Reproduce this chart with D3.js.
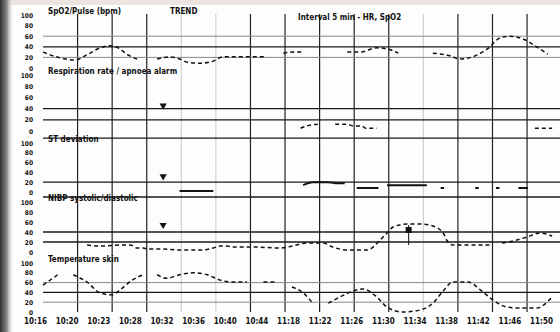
<!DOCTYPE html>
<html>
<head>
<meta charset="utf-8">
<script src="https://cdn.jsdelivr.net/npm/d3@7"></script>
<style>
  html, body { margin: 0; padding: 0; background: #fff; }
  svg { display: block; }
  .lbl text { font-family: "DejaVu Sans Condensed", "DejaVu Sans", sans-serif; font-weight: bold; font-size: 8px; fill: #111; }
  .ylbl text { font-size: 6.5px; }
</style>
</head>
<body>
<div id="chart"></div>
<script>
// time axis (minutes from start) and tick labels
const gridMinutes = d3.range(4, 57, 4);
const darkGrid = [4, 8, 12, 24, 28, 32, 36, 40, 48, 52, 56];
const timeLabels = ["10:16", "10:20", "10:23", "10:28", "10:32", "10:36", "10:40", "10:44",
    "11:18", "11:22", "11:26", "11:30", "11:34", "11:38", "11:42", "11:46", "11:50"];
const yTicks = [0, 20, 40, 60, 80, 100];

const panelTitles = ["SpO2/Pulse (bpm)", "Respiration rate / apnoea alarm", "ST deviation", "NIBP systolic/diastolic", "Temperature skin"];

// threshold rules per panel (value, dark?)
const rules1 = [[60, false], [40, true], [20, false]];
const rules2 = [[40, true], [20, true]];
const rules3 = [[110, true], [20, true]];
const rules4 = [[110, true], [40, true], [20, true]];
const rules5 = [[60, false], [40, true], [20, false]];

// series: minutes, value (null = gap)
const t1 = [0, 2, 3.7, 5.1, 6.6, 7.8, 8.7, 9.8, 11.2, 12.2, 13.2, 14.7, 15.8, 16.7, 18.2, 19.7, 20.8, 22.8, 24.3, 25.9, 26.8,
    27.8, 28.9, 30.1, 32, 35.2, 36.7, 38.6, 39.8, 41.1, 43, 45.1, 47.1, 48.2, 49.7, 51.4, 52.9, 54, 55.5, 57.1, 58.4];
const v1 = [30, 19, 15, 25, 38, 42, 38, 25, 15, null, 17, 21, 17, 11, 9, 13, 21, 21, 21, 21, null,
    28, 30, 30, null, 30, 30, 38, 36, 28, null, 28, 23, 17, 21, 36, 57, 60, 55, 40, 26];

const t2 = [29.8, 30.5, 31.8, 32.8, 33.8, 35.2, 35.9, 36.9, 37.3, 38.6, 40, 56.9, 58.9];
const v2 = [5, 9, 12, null, 12, 12, 9, 9, 5, 5, null, 5, 5];

const t3 = [15.8, 19.7, 22, 30.1, 31.2, 33, 34.1, 34.9, 35.6, 36.3, 38.8, 39.3, 39.8, 44.4, 45, 46, 46.4, 47,
    50, 50.4, 51, 52.4, 52.8, 53.5, 55, 56.1];
const v3 = [2, 2, null, 14, 20, 20, 18, 18, null, 8, 8, null, 14, 14, null, 8, 8, null,
    8, 8, null, 8, 8, null, 8, 8];

const t4 = [5.1, 6.6, 9.3, 10.1, 10.9, 11.6, 12.1, 13.9, 15.8, 18.2, 19.7, 20.5, 21.3, 22, 24.3, 27.4, 30.7, 32.4,
    33.5, 35.2, 37.5, 38.2, 39, 39.8, 40.5, 42.1, 43.6, 45.1, 46.3, 46.7, 47.4, 51.7, 52.4, 53.1, 54.4, 56, 57.5, 58.9];
const v4 = [14, 12, 14, 14, 8, 8, 6, 6, 4, 4, 8, 12, 12, 10, 10, 8, 18, 18,
    10, 4, 4, 10, 24, 38, 50, 56, 56, 52, 38, 24, 14, 14, null, 18, 22, 30, 38, 32];

const t5 = [0, 1.7, 2.6, 3.5, 5.1, 6.6, 8, 8.9, 10.3, 11.6, 12.4, 13.2, 14.3, 15.8, 17.4, 19, 20.5, 22, 23.6, 24.5,
    25.5, 27.1, 28, 28.8, 30.1, 31.2, 32.2, 33, 34.4, 35.9, 37, 38.6, 39.8, 41.6, 43.6, 45.1, 46.3, 47.4, 49.2,
    50.6, 52.1, 53.7, 55.2, 57.1, 58.3, 58.9];
const v5 = [55, 76, null, 76, 61, 39, 35, 45, 65, 76, null, 76, 69, 76, 80, 76, 65, 61, 61, null,
    61, 61, null, 51, 39, 18, null, 18, 31, 43, 47, 31, 10, 0, 4, 18, 43, 61, 61,
    45, 24, 10, 8, 8, 20, 31];

// markers: [panel, minute, value, shape]
const markers = [[1, 13.9, 40, "tri"], [2, 13.9, 26, "tri"], [3, 13.9, 48, "tri"], [3, 42.3, 44, "sq"]];

const W = 560, H = 332;
const panelTop = [15, 75, 143, 202, 263];
const panelBottom = [68, 131, 192, 252, 312];

const panels = [
    { t: t1, v: v1, rules: rules1 },
    { t: t2, v: v2, rules: rules2 },
    { t: t3, v: v3, rules: rules3, solid: true },
    { t: t4, v: v4, rules: rules4 },
    { t: t5, v: v5, rules: rules5 }
];

const svg = d3.select("#chart").append("svg").attr("width", W).attr("height", H);

// scan edge shading
const defs = svg.append("defs");
const lg = defs.append("linearGradient").attr("id", "edge").attr("x1", 0).attr("x2", 1);
lg.append("stop").attr("offset", 0).attr("stop-color", "#2e2e2e");
lg.append("stop").attr("offset", 0.5).attr("stop-color", "#8a8a8a");
lg.append("stop").attr("offset", 1).attr("stop-color", "#fff").attr("stop-opacity", 0);
svg.append("rect").attr("width", W).attr("height", H).attr("fill", "#fdfdfd");
svg.append("rect").attr("width", W).attr("height", 5).attr("fill", "#ece4e0");
svg.append("rect").attr("x", 0).attr("y", 0).attr("width", 14).attr("height", H).attr("fill", "url(#edge)");

const x = d3.scaleLinear().domain([0, 59]).range([43, 553]);

// vertical grid
svg.append("g").selectAll("line").data(gridMinutes).join("line")
    .attr("x1", d => x(d)).attr("x2", d => x(d))
    .attr("y1", 14).attr("y2", 312)
    .attr("stroke", d => darkGrid.includes(d) ? "#222" : "#bbb")
    .attr("stroke-width", d => darkGrid.includes(d) ? 1.2 : 0.8);

panels.forEach((p, i) => {
    const y = d3.scaleLinear().domain([0, 100]).range([panelBottom[i], panelTop[i]]);
    const g = svg.append("g");

    g.selectAll("line.rule").data(p.rules).join("line")
        .attr("class", "rule")
        .attr("x1", 43).attr("x2", W)
        .attr("y1", d => y(d[0])).attr("y2", d => y(d[0]))
        .attr("stroke", d => d[1] ? "#1a1a1a" : "#888")
        .attr("stroke-width", d => d[1] ? 1.3 : 1);

    const yAxis = g.append("g").attr("class", "lbl ylbl")
        .attr("transform", "translate(36,0)")
        .call(d3.axisLeft(y).tickValues(yTicks).tickSize(0).tickPadding(3));
    yAxis.select(".domain").remove();

    g.append("text")
        .attr("x", 48).attr("y", y(100) - 1)
        .attr("font-family", "DejaVu Sans Condensed, DejaVu Sans, sans-serif")
        .attr("font-weight", "bold").attr("font-size", 8).attr("fill", "#111")
        .text(panelTitles[i]);

    const pts = p.t.map((t, k) => ({ t, v: p.v[k] }));
    const line = d3.line().defined(d => d.v != null)
        .x(d => x(d.t)).y(d => y(d.v)).curve(d3.curveMonotoneX);
    g.append("path").datum(pts)
        .attr("d", line)
        .attr("fill", "none").attr("stroke", "#111")
        .attr("stroke-width", p.solid ? 2 : 1.5)
        .attr("stroke-dasharray", p.solid ? null : "4,3");

    markers.filter(m => m[0] === i).forEach(m => {
        const mx = x(m[1]), my = y(m[2]);
        if (m[3] === "tri") {
            g.append("path").attr("d", d3.symbol(d3.symbolTriangle, 22)())
                .attr("transform", `translate(${mx},${my - 3}) rotate(180)`)
                .attr("fill", "#111");
        } else {
            g.append("line").attr("x1", mx).attr("x2", mx).attr("y1", my - 5).attr("y2", y(14))
                .attr("stroke", "#111").attr("stroke-width", 1);
            g.append("rect").attr("x", mx - 3).attr("y", my - 3).attr("width", 6).attr("height", 6).attr("fill", "#111");
        }
    });
});

// extra header texts on top panel
svg.append("text").attr("x", 170).attr("y", 14)
    .attr("font-family", "DejaVu Sans Condensed, DejaVu Sans, sans-serif")
    .attr("font-weight", "bold").attr("font-size", 8).attr("fill", "#111").text("TREND");
svg.append("text").attr("x", 298).attr("y", 20)
    .attr("font-family", "DejaVu Sans Condensed, DejaVu Sans, sans-serif")
    .attr("font-weight", "bold").attr("font-size", 8).attr("fill", "#111").text("Interval 5 min - HR, SpO2");

// time labels
const xl = d3.scalePoint().domain(timeLabels).range([35, 541]);
const xAxis = svg.append("g").attr("class", "lbl")
    .attr("transform", "translate(0,318)")
    .call(d3.axisBottom(xl).tickSize(0).tickPadding(0));
xAxis.select(".domain").remove();
</script>
</body>
</html>
